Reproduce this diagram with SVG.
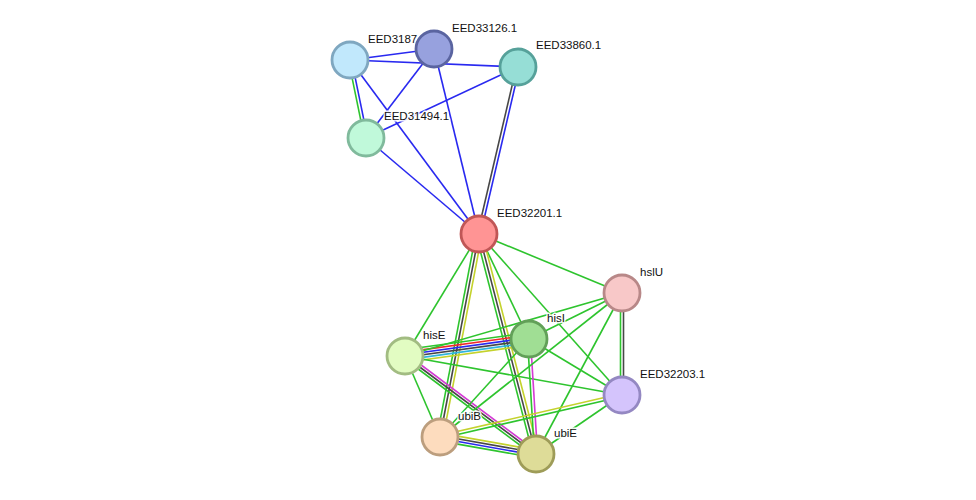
<svg xmlns="http://www.w3.org/2000/svg" width="976" height="500" viewBox="0 0 976 500">
<style>
.e{stroke-width:1.6;fill:none}
.g{stroke:#2ec42e}.b{stroke:#2929f0}.k{stroke:#474747}.y{stroke:#c4d22c}.r{stroke:#f02a2a}.c{stroke:#30b4dc}.m{stroke:#d43ad4}
.n{stroke-width:2.8}
.t{font-family:"Liberation Sans",Arial,sans-serif;font-size:11.5px;fill:#111;stroke:#fff;stroke-width:3;stroke-opacity:0.9;paint-order:stroke;stroke-linejoin:round}
</style>
<rect width="976" height="500" fill="#fff"/>
<g id="edges">
<line class="e b" x1="350" y1="60" x2="434" y2="49"/>
<line class="e b" x1="350" y1="60" x2="518" y2="67"/>
<line class="e b" x1="350" y1="60" x2="479" y2="234"/>
<line class="e g" x1="348.5" y1="60.3" x2="364.5" y2="138.3"/>
<line class="e b" x1="351.5" y1="59.7" x2="367.5" y2="137.7"/>
<line class="e b" x1="434" y1="49" x2="366" y2="138"/>
<line class="e b" x1="434" y1="49" x2="479" y2="234"/>
<line class="e b" x1="518" y1="67" x2="366" y2="138"/>
<line class="e b" x1="366" y1="138" x2="479" y2="234"/>
<line class="e k" x1="516.5" y1="66.7" x2="477.5" y2="233.7"/>
<line class="e b" x1="519.5" y1="67.3" x2="480.5" y2="234.3"/>
<line class="e g" x1="479" y1="234" x2="622" y2="293"/>
<line class="e g" x1="479" y1="234" x2="405" y2="356"/>
<line class="e g" x1="479" y1="234" x2="529" y2="339"/>
<line class="e g" x1="479" y1="234" x2="622" y2="395"/>
<line class="e g" x1="476.05" y1="233.43" x2="437.05" y2="436.43"/>
<line class="e k" x1="479" y1="234" x2="440" y2="437"/>
<line class="e y" x1="481.95" y1="234.57" x2="442.95" y2="437.57"/>
<line class="e g" x1="476.1" y1="234.75" x2="533.1" y2="454.75"/>
<line class="e k" x1="479" y1="234" x2="536" y2="454"/>
<line class="e y" x1="481.9" y1="233.25" x2="538.9" y2="453.25"/>
<line class="e g" x1="405.88" y1="349.56" x2="529.88" y2="332.56"/>
<line class="e r" x1="405.53" y1="352.14" x2="529.53" y2="335.14"/>
<line class="e b" x1="405.18" y1="354.71" x2="529.18" y2="337.71"/>
<line class="e k" x1="404.82" y1="357.29" x2="528.82" y2="340.29"/>
<line class="e c" x1="404.47" y1="359.86" x2="528.47" y2="342.86"/>
<line class="e y" x1="404.12" y1="362.44" x2="528.12" y2="345.44"/>
<line class="e m" x1="406.5" y1="354" x2="537.5" y2="452"/>
<line class="e k" x1="405" y1="356" x2="536" y2="454"/>
<line class="e g" x1="403.5" y1="358" x2="534.5" y2="456"/>
<line class="e g" x1="405" y1="356" x2="440" y2="437"/>
<line class="e g" x1="405" y1="356" x2="622" y2="293"/>
<line class="e g" x1="405" y1="356" x2="622" y2="395"/>
<line class="e g" x1="527.5" y1="339.1" x2="534.5" y2="454.1"/>
<line class="e m" x1="530.5" y1="338.9" x2="537.5" y2="453.9"/>
<line class="e g" x1="529" y1="339" x2="440" y2="437"/>
<line class="e g" x1="529" y1="339" x2="622" y2="293"/>
<line class="e g" x1="529" y1="339" x2="622" y2="395"/>
<line class="e g" x1="620.5" y1="293" x2="620.5" y2="395"/>
<line class="e k" x1="623.5" y1="293" x2="623.5" y2="395"/>
<line class="e g" x1="622" y1="293" x2="440" y2="437"/>
<line class="e g" x1="622" y1="293" x2="536" y2="454"/>
<line class="e y" x1="621.66" y1="393.54" x2="439.66" y2="435.54"/>
<line class="e g" x1="622.34" y1="396.46" x2="440.34" y2="438.46"/>
<line class="e g" x1="622" y1="395" x2="536" y2="454"/>
<line class="e y" x1="440.68" y1="433.16" x2="536.68" y2="450.16"/>
<line class="e k" x1="440.23" y1="435.72" x2="536.23" y2="452.72"/>
<line class="e b" x1="439.77" y1="438.28" x2="535.77" y2="455.28"/>
<line class="e g" x1="439.32" y1="440.84" x2="535.32" y2="457.84"/>
</g>
<g id="EED3187"><text class="t" x="368" y="43">EED3187</text><circle class="n" cx="350" cy="60" r="18" fill="#c1e8fc" stroke="#7fa7c0"/></g>
<g id="EED33126.1"><circle class="n" cx="434" cy="49" r="18" fill="#97a1de" stroke="#5a64a0"/><text class="t" x="452" y="32">EED33126.1</text></g>
<g id="EED33860.1"><circle class="n" cx="518" cy="67" r="18" fill="#96ded6" stroke="#56a19a"/><text class="t" x="536" y="49">EED33860.1</text></g>
<g id="EED31494.1"><circle class="n" cx="366" cy="138" r="18" fill="#c0f9da" stroke="#80ba9c"/><text class="t" x="384" y="120">EED31494.1</text></g>
<g id="EED32201.1"><circle class="n" cx="479" cy="234" r="18" fill="#ff9494" stroke="#c05656"/><text class="t" x="497" y="217">EED32201.1</text></g>
<g id="hslU"><circle class="n" cx="622" cy="293" r="18" fill="#f8c8c8" stroke="#b88888"/><text class="t" x="640" y="276">hslU</text></g>
<g id="hisI"><circle class="n" cx="529" cy="339" r="18" fill="#a0de94" stroke="#62a058"/><text class="t" x="547" y="322">hisI</text></g>
<g id="hisE"><circle class="n" cx="405" cy="356" r="18" fill="#e2fcc2" stroke="#a2bc82"/><text class="t" x="423" y="339">hisE</text></g>
<g id="EED32203.1"><circle class="n" cx="622" cy="395" r="18" fill="#d4c4fc" stroke="#9488c2"/><text class="t" x="640" y="378">EED32203.1</text></g>
<g id="ubiB"><circle class="n" cx="440" cy="437" r="18" fill="#fddcbe" stroke="#bc9e7e"/><text class="t" x="458" y="420">ubiB</text></g>
<g id="ubiE"><circle class="n" cx="536" cy="454" r="18" fill="#dedc98" stroke="#9e9c58"/><text class="t" x="554" y="437">ubiE</text></g>
</svg>
